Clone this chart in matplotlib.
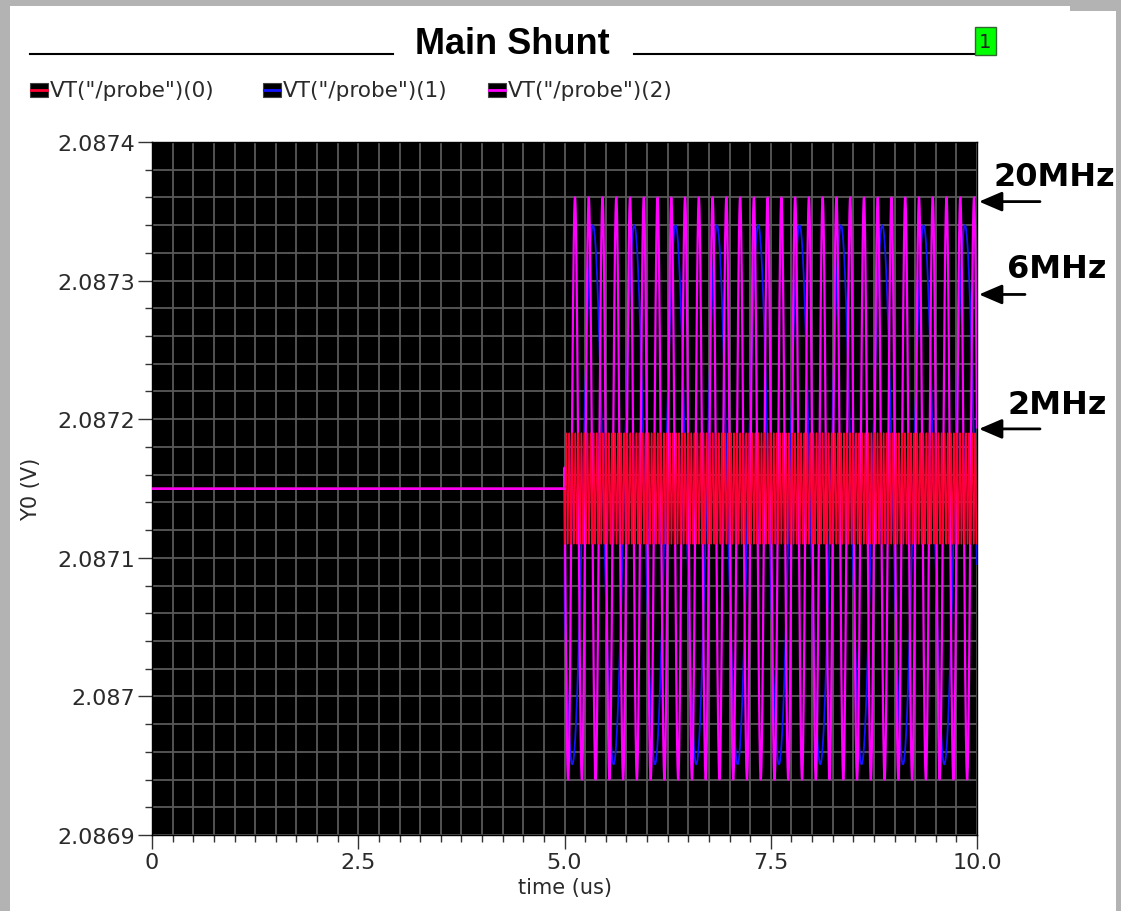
import numpy as np
import matplotlib
matplotlib.use("Agg")
import matplotlib.pyplot as plt
from matplotlib.patches import Rectangle, FancyArrowPatch
from matplotlib.lines import Line2D
from matplotlib.ticker import FixedLocator, FixedFormatter, MultipleLocator

# ---------------- data ----------------
series_labels = ['VT("/probe")(0)', 'VT("/probe")(1)', 'VT("/probe")(2)']
series_colors = ['#ff0033', '#1414ff', '#ff00ff']
dc_level = 2.08715            # level before the step (V)
step_time_us = 5.0            # time the oscillation starts
end_time_us = 10.0
apparent_period_us = [0.037, 0.501, 0.16679]    # visible period of each trace
first_peak_us = [5.02, 5.345, 5.127]            # time of first visible top
peak_high = [2.08719, 2.08734, 2.08736]         # upper envelope (V)
peak_low = [2.08711, 2.086951, 2.08694]         # lower envelope (V)

y_ticks = [2.0869, 2.087, 2.0871, 2.0872, 2.0873, 2.0874]
y_tick_labels = ['2.0869', '2.087', '2.0871', '2.0872', '2.0873', '2.0874']
x_ticks = [0, 2.5, 5.0, 7.5, 10.0]
x_tick_labels = ['0', '2.5', '5.0', '7.5', '10.0']

annot_labels = ['20MHz', '6MHz', '2MHz']
annot_levels = [2.087357, 2.087290, 2.087193]

# ---------------- figure ----------------
W, H = 1121, 912
fig = plt.figure(figsize=(W / 100, H / 100), dpi=100, facecolor='#b3b3b3')


def fx(x):
    return x / W


def fy(y):
    return 1 - y / H


# white panel (behind everything)
fig.patches.append(Rectangle((fx(10), 0), fx(1070) - fx(10), fy(7), transform=fig.transFigure,
                             facecolor='white', edgecolor='none', zorder=-10))
fig.patches.append(Rectangle((fx(10), 0), fx(1116) - fx(10), fy(12), transform=fig.transFigure,
                             facecolor='white', edgecolor='none', zorder=-10))

ax = fig.add_axes([fx(152), fy(836), fx(977) - fx(152), fy(143) - fy(836)])
ax.set_facecolor('black')

# traces
t_post = np.linspace(step_time_us, end_time_us, 60001)
line_widths = [1.0, 1.3, 1.6]
z_orders = [6, 4, 5]
for lab, col, per, tpk, hi, lo, lw, z in zip(series_labels, series_colors, apparent_period_us,
                                             first_peak_us, peak_high, peak_low,
                                             line_widths, z_orders):
    c = (hi + lo) / 2
    a = (hi - lo) / 2
    y_post = c + a * np.cos(2 * np.pi * (t_post - tpk) / per)
    t = np.concatenate([[0.0, step_time_us], t_post])
    y = np.concatenate([[dc_level, dc_level], y_post])
    ax.plot(t, y, color=col, lw=lw, zorder=z, label=lab)
# the flat pre-step segment shows in magenta (last trace drawn on top there)
ax.plot([0.0, step_time_us], [dc_level, dc_level], color=series_colors[2], lw=1.3, zorder=7)

ax.set_xlim(0, 10)
ax.set_ylim(2.0869, 2.0874)

ax.xaxis.set_major_locator(FixedLocator(x_ticks))
ax.xaxis.set_major_formatter(FixedFormatter(x_tick_labels))
ax.xaxis.set_minor_locator(MultipleLocator(0.25))
ax.yaxis.set_major_locator(FixedLocator(y_ticks))
ax.yaxis.set_major_formatter(FixedFormatter(y_tick_labels))
ax.yaxis.set_minor_locator(MultipleLocator(0.00002))

ax.grid(True, which='both', color='#595959', lw=1.3, zorder=1)
ax.set_axisbelow(True)
ax.tick_params(which='major', direction='out', length=10, width=1, color='#333333',
               labelsize=16, labelcolor='#2a2a2a', pad=2)
ax.tick_params(which='minor', direction='out', length=5, width=1, color='#333333')
for s in ax.spines.values():
    s.set_color('black')
    s.set_linewidth(1)

ax.set_xlabel('time (us)', fontsize=15, color='#2a2a2a', labelpad=4)
ax.set_ylabel('Y0 (V)', fontsize=15, color='#2a2a2a', labelpad=12)

# title with rules
fig.text(fx(512), fy(44), 'Main Shunt', ha='center', va='center', fontsize=26,
         fontweight='bold', family='Liberation Sans', color='black')
fig.add_artist(Line2D([fx(30), fx(393)], [fy(55), fy(55)], color='black', lw=1.5))
fig.add_artist(Line2D([fx(634), fx(975)], [fy(55), fy(55)], color='black', lw=1.5))
fig.patches.append(Rectangle((fx(975), fy(56)), fx(996) - fx(975), fy(28) - fy(56),
                             transform=fig.transFigure, facecolor='#00ff00',
                             edgecolor='#336633', lw=1, zorder=2))
fig.text(fx(985.5), fy(42), '1', ha='center', va='center', fontsize=14, color='#222222', zorder=3)

# legend
legend_x = [30, 263, 488]
for lx, lab, col in zip(legend_x, series_labels, series_colors):
    fig.patches.append(Rectangle((fx(lx), fy(98)), fx(lx + 18) - fx(lx), fy(84) - fy(98),
                                 transform=fig.transFigure, facecolor='black',
                                 edgecolor='#444444', lw=0.8, zorder=2))
    fig.add_artist(Line2D([fx(lx + 1), fx(lx + 17)], [fy(91), fy(91)], color=col, lw=2, zorder=3))
    fig.text(fx(lx + 20), fy(91), lab, ha='left', va='center', fontsize=15.5, color='#2a2a2a')

# annotations (arrows pointing at the right edge of the plot)
text_pos = [(993, 178), (1007, 270), (1007, 406)]
tail_x = [1040, 1025, 1040]
fig.canvas.draw()
for lab, lvl, (tx, ty), tlx in zip(annot_labels, annot_levels, text_pos, tail_x):
    ypx = H - ax.transData.transform((0, lvl))[1]
    fig.add_artist(FancyArrowPatch(
        (fx(tlx), fy(ypx)), (fx(979), fy(ypx)), transform=fig.transFigure,
        arrowstyle='-|>,head_length=14,head_width=6', mutation_scale=1,
        color='black', lw=2, shrinkA=0, shrinkB=0, zorder=6))
    fig.text(fx(tx), fy(ty), lab, ha='left', va='center', fontsize=23,
             fontweight='bold', family='DejaVu Sans', color='black')

fig.savefig('out.png', dpi=100, facecolor=fig.get_facecolor())
